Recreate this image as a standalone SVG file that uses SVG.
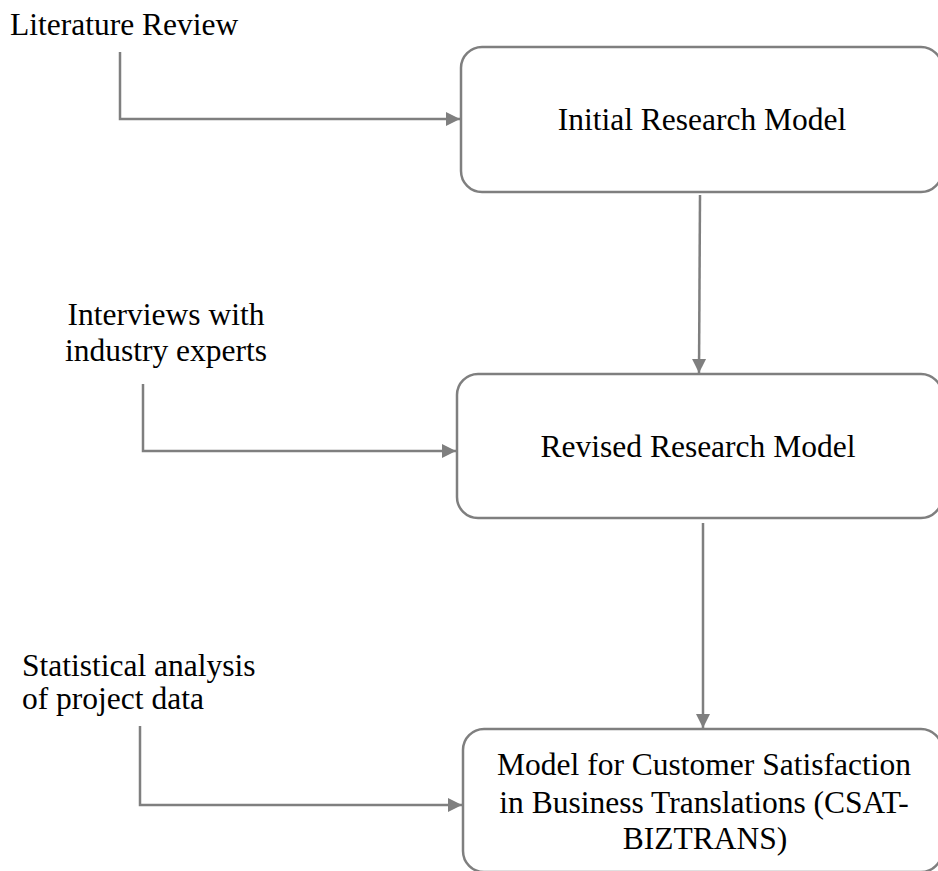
<svg xmlns="http://www.w3.org/2000/svg" width="938" height="871" viewBox="0 0 938 871">
  <style>
    .box { fill: #ffffff; stroke: #7f7f7f; stroke-width: 2.5; }
    .lbl { font-family: "Liberation Serif", "Times New Roman", serif; font-size: 31.5px; fill: #000000; }
    .mid { text-anchor: middle; }
    .conn { fill: none; stroke: #7f7f7f; stroke-width: 2.5; }
  </style>
  <defs>
    <marker id="arrow" markerUnits="userSpaceOnUse" markerWidth="16" markerHeight="16" viewBox="0 0 16 16" refX="15" refY="8" orient="auto">
      <path d="M1,1 L15,8 L1,15 Z" fill="#7f7f7f"/>
    </marker>
  </defs>
  <rect width="938" height="871" fill="#ffffff"/>

  <!-- input labels -->
  <g id="literature-review">
    <text class="lbl" x="10" y="35">Literature Review</text>
  </g>
  <g id="interviews">
    <text class="lbl mid" x="166" y="325">Interviews with</text>
    <text class="lbl mid" x="166" y="361">industry experts</text>
  </g>
  <g id="statistical-analysis">
    <text class="lbl" x="22" y="676">Statistical analysis</text>
    <text class="lbl" x="22" y="709">of project data</text>
  </g>

  <!-- model stages -->
  <g id="initial-model">
    <rect class="box" x="461" y="47" width="481" height="145" rx="21"/>
    <text class="lbl mid" x="702" y="130">Initial Research Model</text>
  </g>
  <g id="revised-model">
    <rect class="box" x="457" y="374" width="485" height="144" rx="21"/>
    <text class="lbl mid" x="698" y="457">Revised Research Model</text>
  </g>
  <g id="csat-biztrans">
    <rect class="box" x="463" y="729" width="479" height="143" rx="21"/>
    <text class="lbl mid" x="704" y="775">Model for Customer Satisfaction</text>
    <text class="lbl mid" x="704" y="813">in Business Translations (CSAT-</text>
    <text class="lbl mid" x="705" y="849">BIZTRANS)</text>
  </g>

  <!-- connectors -->
  <g id="connectors">
    <path class="conn" d="M120,52 V119 H460" marker-end="url(#arrow)"/>
    <path class="conn" d="M143,384 V451 H456" marker-end="url(#arrow)"/>
    <path class="conn" d="M140,726 V805 H462" marker-end="url(#arrow)"/>
    <path class="conn" d="M700,195 L699,373" marker-end="url(#arrow)"/>
    <path class="conn" d="M703,523 L703,728" marker-end="url(#arrow)"/>
  </g>
</svg>
